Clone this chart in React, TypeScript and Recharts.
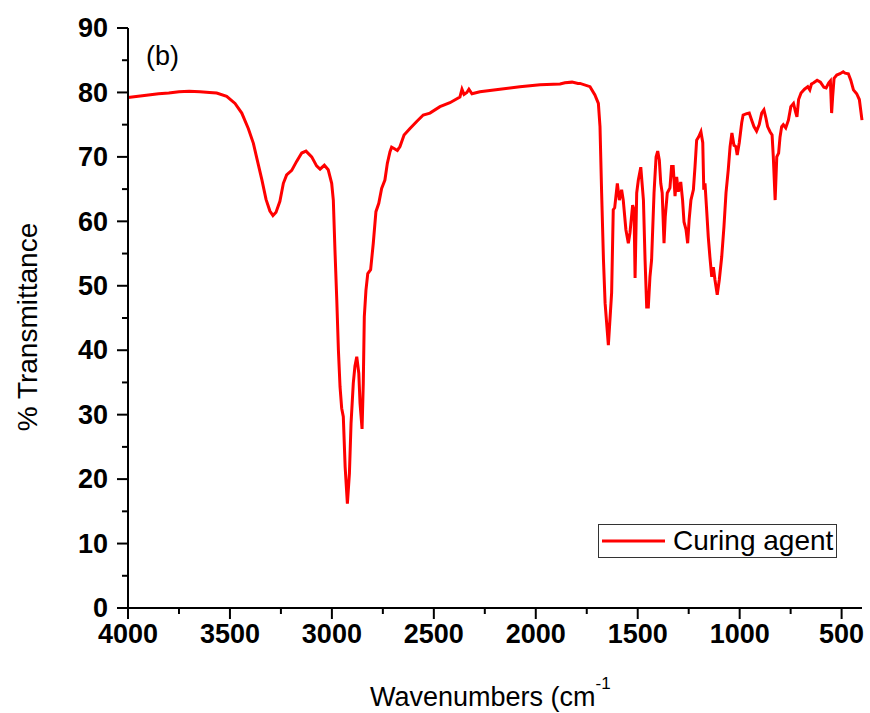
import React from 'react';
import { LineChart, Line, XAxis, YAxis, Legend } from 'recharts';

// FTIR spectrum of the curing agent (wavenumber in cm-1, % transmittance)
const wavenumbers = [
  4000, 3950, 3900, 3850, 3800, 3750, 3700, 3647, 3600, 3565, 3516, 3475, 3442, 3410, 3385, 3366,
  3343, 3323, 3304, 3289, 3274, 3255, 3238, 3222, 3197, 3173, 3148, 3127, 3099, 3075, 3058, 3037,
  3018, 3001, 2993, 2985, 2976, 2968, 2960, 2952, 2944, 2935, 2924, 2914, 2906, 2895, 2887, 2878,
  2868, 2862, 2852, 2846, 2841, 2833, 2824, 2810, 2797, 2784, 2770, 2756, 2740, 2728, 2715, 2707,
  2695, 2679, 2666, 2646, 2617, 2584, 2552, 2519, 2470, 2421, 2372, 2362, 2352, 2338, 2328, 2313,
  2274, 2176, 2078, 1979, 1881, 1857, 1822, 1793, 1783, 1734, 1710, 1693, 1685, 1677, 1668, 1660,
  1644, 1628, 1620, 1613, 1600, 1590, 1579, 1571, 1558, 1546, 1538, 1525, 1518, 1513, 1505, 1497,
  1485, 1472, 1464, 1456, 1448, 1440, 1432, 1420, 1410, 1402, 1394, 1387, 1380, 1371, 1365, 1355,
  1342, 1334, 1326, 1317, 1309, 1301, 1289, 1280, 1273, 1263, 1255, 1248, 1239, 1227, 1219, 1211,
  1201, 1190, 1181, 1176, 1170, 1162, 1154, 1146, 1137, 1129, 1121, 1110, 1100, 1088, 1077, 1067,
  1056, 1047, 1038, 1028, 1019, 1012, 1002, 990, 983, 966, 953, 941, 930, 917, 904, 892,
  881, 871, 863, 851, 841, 835, 826, 818, 809, 802, 794, 786, 774, 761, 749, 736,
  726, 719, 711, 699, 682, 666, 656, 648, 637, 620, 604, 587, 576, 563, 555, 549,
  544, 537, 524, 508, 492, 483, 467, 455, 442, 426, 413, 400,
];

const transmittance = [
  79.2, 79.4, 79.6, 79.8, 79.9, 80.1, 80.2, 80.1, 80.0, 79.9, 79.4, 78.3, 76.8, 74.4, 72.1, 69.5,
  66.4, 63.4, 61.6, 60.9, 61.4, 63.1, 65.9, 67.2, 67.9, 69.3, 70.6, 70.9, 70.0, 68.6, 68.1, 68.7,
  68.0, 65.9, 63.3, 55.6, 47.8, 40.0, 34.3, 31.0, 29.7, 21.9, 16.2, 20.9, 28.7, 34.9, 37.5, 39.0,
  36.4, 31.8, 27.8, 34.9, 45.2, 49.3, 51.9, 52.5, 56.6, 61.5, 62.8, 65.1, 66.4, 69.0, 70.8, 71.5,
  71.3, 71.0, 71.6, 73.4, 74.4, 75.5, 76.5, 76.8, 77.8, 78.4, 79.3, 80.5, 79.7, 80.0, 80.5, 79.8,
  80.1, 80.5, 80.9, 81.2, 81.3, 81.5, 81.6, 81.4, 81.4, 80.9, 79.6, 78.3, 74.7, 64.4, 54.0, 47.3,
  40.8, 48.9, 61.8, 62.1, 65.9, 63.3, 64.9, 63.3, 58.7, 56.6, 58.2, 62.5, 61.8, 51.2, 64.4, 66.4,
  68.4, 63.3, 54.0, 46.7, 46.7, 51.4, 54.0, 64.4, 70.0, 70.9, 69.5, 65.9, 64.4, 56.6, 60.7, 64.4,
  65.2, 68.5, 68.5, 63.9, 66.9, 64.6, 66.1, 63.3, 59.9, 58.7, 56.6, 60.2, 63.3, 64.9, 68.5, 72.6,
  73.1, 73.9, 72.2, 64.9, 65.9, 61.8, 57.6, 54.5, 51.4, 52.9, 50.9, 48.6, 50.9, 54.5, 59.2, 64.4,
  68.0, 71.6, 73.7, 71.8, 71.6, 70.3, 72.2, 75.3, 76.5, 76.7, 76.8, 75.7, 74.7, 74.0, 75.0, 76.8,
  77.3, 76.0, 74.7, 73.9, 73.4, 70.0, 63.3, 70.0, 70.6, 73.1, 74.7, 75.0, 74.5, 75.7, 77.8, 78.3,
  77.0, 76.2, 78.9, 79.9, 80.5, 80.9, 80.4, 81.3, 81.5, 81.9, 81.6, 80.8, 80.7, 81.5, 81.8, 76.8,
  79.3, 82.2, 82.7, 82.9, 83.2, 83.0, 82.9, 81.9, 80.4, 79.8, 78.9, 75.7,
];

const xMajorTicks = [4000, 3500, 3000, 2500, 2000, 1500, 1000, 500];
const xMinorTicks = [3750, 3250, 2750, 2250, 1750, 1250, 750];
const yMajorTicks = [0, 10, 20, 30, 40, 50, 60, 70, 80, 90];
const yMinorTicks = [5, 15, 25, 35, 45, 55, 65, 75, 85];

const seriesName = 'Curing agent';
const panelTag = '(b)';
const xTitle = 'Wavenumbers (cm';
const xTitleSup = '-1';
const yTitle = '% Transmittance';

const data = wavenumbers.map((w, i) => ({ w, t: transmittance[i] }));
const xTicks = [...xMajorTicks, ...xMinorTicks].sort((a, b) => b - a);
const yTicks = [...yMajorTicks, ...yMinorTicks].sort((a, b) => a - b);

const FONT = '"Liberation Sans", Arial, Helvetica, sans-serif';
const RED = '#ff0000';

const XTick = (props: any) => {
  const { x, y, payload } = props;
  const major = xMajorTicks.includes(payload.value);
  return (
    <g>
      <line x1={x} x2={x} y1={y} y2={y + (major ? 11 : 6)} stroke="#000" strokeWidth={2} />
      {major && (
        <text x={x} y={y + 35} textAnchor="middle" fontSize={27} fontWeight="bold" fontFamily={FONT} fill="#000">
          {payload.value}
        </text>
      )}
    </g>
  );
};

const YTick = (props: any) => {
  const { x, y, payload } = props;
  const major = yMajorTicks.includes(payload.value);
  return (
    <g>
      <line x1={x - (major ? 11 : 6)} x2={x} y1={y} y2={y} stroke="#000" strokeWidth={2} />
      {major && (
        <text x={x - 20} y={y} dy="0.34em" textAnchor="end" fontSize={27} fontWeight="bold" fontFamily={FONT} fill="#000">
          {payload.value}
        </text>
      )}
    </g>
  );
};

const XTitle = () => (
  <text x={370} y={706} fontSize={27} fontFamily={FONT} fill="#000">
    {xTitle}
    <tspan dy={-17} fontSize={17}>{xTitleSup}</tspan>
  </text>
);

const YTitle = () => (
  <text
    x={0}
    y={0}
    transform="translate(37, 327) rotate(-90)"
    textAnchor="middle"
    fontSize={28}
    fontFamily={FONT}
    fill="#000"
  >
    {yTitle}
  </text>
);

const LegendBox = () => (
  <div
    style={{
      width: 239,
      height: 34,
      border: '1px solid #333',
      boxSizing: 'border-box',
      display: 'flex',
      alignItems: 'center',
      background: '#fff',
      overflow: 'hidden',
    }}
  >
    <svg width={74} height={32} style={{ display: 'block', flex: 'none' }}>
      <line x1={3} x2={66} y1={16} y2={16} stroke={RED} strokeWidth={3} />
    </svg>
    <span style={{ fontSize: 28, fontFamily: FONT, lineHeight: 1, whiteSpace: 'nowrap', color: '#000' }}>
      {seriesName}
    </span>
  </div>
);

export default function App() {
  return (
    <div style={{ position: 'absolute', left: 0, top: 0, width: 870, height: 713, background: '#fff' }}>
      <LineChart width={870} height={713} data={data} margin={{ top: 28, right: 8, bottom: 0, left: 0 }}>
        <XAxis
          dataKey="w"
          type="number"
          domain={[400, 4000]}
          reversed
          ticks={xTicks}
          interval={0}
          height={105}
          tickSize={0}
          tickMargin={0}
          tick={<XTick />}
          axisLine={{ stroke: '#000', strokeWidth: 2 }}
          tickLine={false}
          label={XTitle}
        />
        <XAxis
          xAxisId="top"
          orientation="top"
          dataKey="w"
          type="number"
          domain={[400, 4000]}
          reversed
          height={0}
          tick={false}
          tickLine={false}
          axisLine={{ stroke: '#000', strokeWidth: 2 }}
        />
        <YAxis
          type="number"
          domain={[0, 90]}
          ticks={yTicks}
          interval={0}
          width={128}
          tickSize={0}
          tickMargin={0}
          tick={<YTick />}
          axisLine={{ stroke: '#000', strokeWidth: 2 }}
          tickLine={false}
          label={YTitle}
        />
        <YAxis
          yAxisId="right"
          orientation="right"
          type="number"
          domain={[0, 90]}
          width={0}
          tick={false}
          tickLine={false}
          axisLine={{ stroke: '#000', strokeWidth: 2 }}
        />
        <Legend
          layout="vertical"
          verticalAlign="middle"
          align="center"
          content={<LegendBox />}
          wrapperStyle={{ position: 'absolute', left: 598, top: 524, width: 239, height: 34 }}
        />
        <Line
          dataKey="t"
          name={seriesName}
          type="linear"
          stroke={RED}
          strokeWidth={3}
          dot={false}
          activeDot={false}
          isAnimationActive={false}
        />
      </LineChart>
      <div
        style={{
          position: 'absolute',
          left: 146,
          top: 40,
          fontSize: 27,
          fontFamily: FONT,
          lineHeight: '32px',
          color: '#000',
        }}
      >
        {panelTag}
      </div>
    </div>
  );
}
